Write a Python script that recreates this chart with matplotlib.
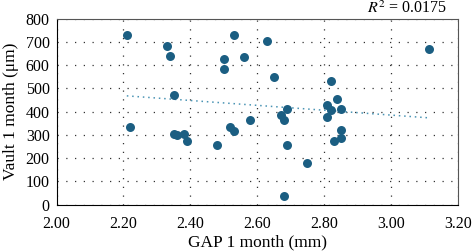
import numpy as np
import matplotlib.pyplot as plt

# GAP (mm) и Vault (мкм) через 1 месяц
gap = [2.21, 2.22, 2.33, 2.34, 2.35, 2.35, 2.36, 2.38, 2.39, 2.48,
       2.50, 2.50, 2.52, 2.53, 2.53, 2.56, 2.58, 2.63, 2.65, 2.67,
       2.68, 2.68, 2.69, 2.69, 2.75, 2.81, 2.81, 2.82, 2.82, 2.84,
       2.85, 2.85, 2.85, 2.83, 3.115]
vault = [731, 333, 684, 641, 470, 303, 298, 304, 273, 258,
         627, 584, 333, 318, 730, 637, 364, 704, 551, 386,
         363, 37, 413, 255, 179, 427, 379, 532, 409, 456,
         410, 320, 287, 274, 670]
r2_text = '$R^2$ = 0.0175'

plt.rcParams['font.family'] = ['Liberation Serif', 'DejaVu Serif']
plt.rcParams['mathtext.fontset'] = 'stix'

fig = plt.figure(figsize=(4.73, 2.52), dpi=100)
ax = fig.add_axes([0.1197, 0.1877, 0.848, 0.738])

x = np.array(gap)
y = np.array(vault)

# линия тренда
k, b = np.polyfit(x, y, 1)
xt = np.array([x.min(), x.max()])
ax.plot(xt, k * xt + b, color='#4a94b4', linestyle=(0, (1, 2.5)), linewidth=1.1, zorder=2)

ax.scatter(x, y, s=42, color='#1b5e82', zorder=3, linewidths=0)

ax.set_xlim(2.0, 3.2)
ax.set_ylim(0, 800)
ax.set_xticks(np.arange(2.0, 3.21, 0.2))
ax.set_xticklabels([f'{v:.2f}' for v in np.arange(2.0, 3.21, 0.2)])
ax.set_yticks(range(0, 801, 100))

ax.grid(True, color='#333333', linestyle=(0, (1, 6)), linewidth=0.9)
ax.tick_params(length=0, labelsize=11.5)
ax.tick_params(axis='x', pad=8)
ax.tick_params(axis='y', pad=5)

for s in ['left', 'bottom']:
    ax.spines[s].set_color('black')
for s in ['top', 'right']:
    ax.spines[s].set_color('#555555')

ax.set_xlabel('GAP 1 month (mm)', fontsize=12.5, labelpad=2)
ax.set_ylabel('Vault 1 month (μm)', fontsize=12.5, labelpad=5)
ax.text(0.975, 1.008, r2_text, transform=ax.transAxes, ha='right', va='bottom', fontsize=11.5)

fig.savefig('out.png', dpi=100)
